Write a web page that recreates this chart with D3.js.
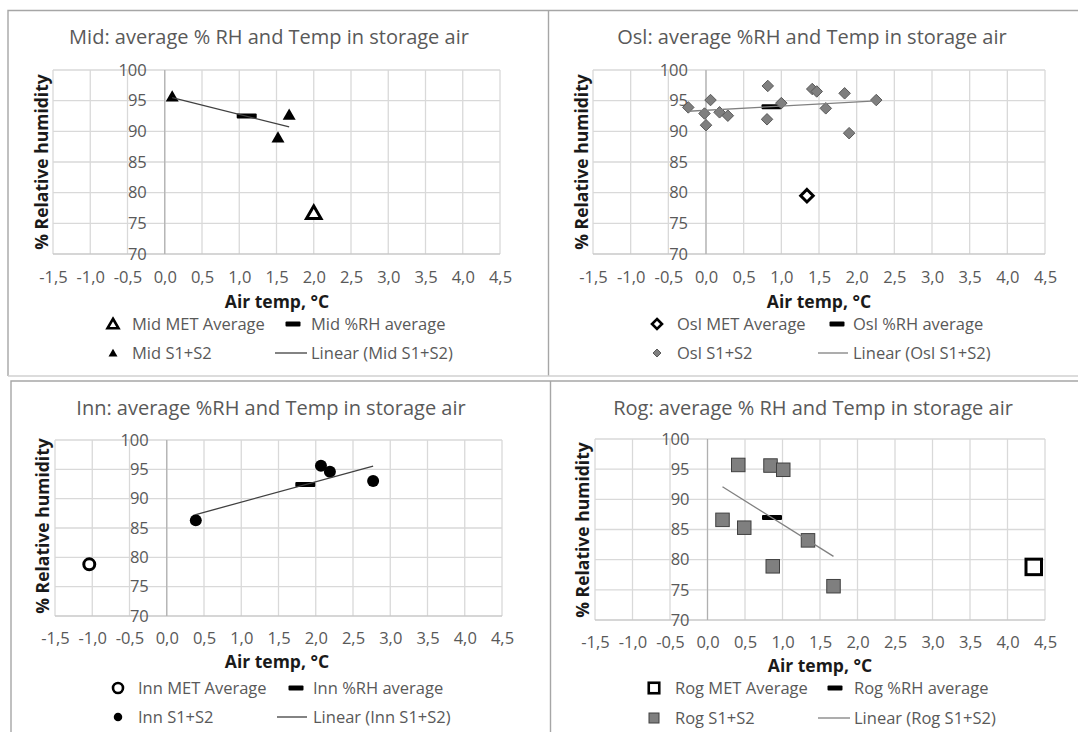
<!DOCTYPE html>
<html><head><meta charset="utf-8">
<script src="https://cdn.jsdelivr.net/npm/d3@7"></script>
<style>body{margin:0;background:#fff} svg{display:block} text{font-family:"Open Sans",sans-serif}</style>
</head><body>
<svg id="c" width="1078" height="732"></svg>
<script>
// ---- data ----
const xTicks=[-1.5,-1,-0.5,0,0.5,1,1.5,2,2.5,3,3.5,4,4.5];
const yTicks=[70,75,80,85,90,95,100];

const midS1S2Temp=[0.10,1.52,1.67];
const midS1S2RH=[95.7,89.0,92.7];
const midMETTemp=[2.0], midMETRH=[76.7];
const midAvgTemp=[1.10], midAvgRH=[92.5];

const oslS1S2Temp=[-0.235,-0.02,0.0,0.06,0.18,0.29,0.82,0.81,1.0,1.41,1.47,1.59,1.84,1.90,2.26];
const oslS1S2RH=[93.9,92.9,91.0,95.1,93.1,92.55,97.4,91.96,94.6,96.9,96.5,93.75,96.2,89.7,95.1];
const oslMETTemp=[1.34], oslMETRH=[79.5];
const oslAvgTemp=[0.87], oslAvgRH=[94.0];

const innS1S2Temp=[0.39,2.07,2.19,2.77];
const innS1S2RH=[86.3,95.6,94.6,93.0];
const innMETTemp=[-1.04], innMETRH=[78.8];
const innAvgTemp=[1.86], innAvgRH=[92.4];

const rogS1S2Temp=[0.41,0.84,1.01,0.20,0.49,1.34,0.87,1.68];
const rogS1S2RH=[95.7,95.6,94.9,86.6,85.3,83.2,78.9,75.6];
const rogMETTemp=[4.35], rogMETRH=[78.8];
const rogAvgTemp=[0.86], rogAvgRH=[87.0];

// ---- layout ----
const panels=[
 {name:"Mid", title:"Mid: average % RH and Temp in storage air", plot:[53,70,500,254],
  titleXY:[269,37], xTickY:277, xTitleXY:[277,302], yTitleXY:[42,162],
  leg:{r1:324,r2:353,m1:113,t1:132,m2:293,t2:311,l1:275,l2:307},
  sx:midS1S2Temp, sy:midS1S2RH, mx:midMETTemp, my:midMETRH, ax:midAvgTemp, ay:midAvgRH,
  shape:"triangle", ptFill:"#000", ptStroke:"#000", trend:"#404040"},
 {name:"Osl", title:"Osl: average %RH and Temp in storage air", plot:[593,70,1045,254],
  titleXY:[812,37], xTickY:277, xTitleXY:[819,302], yTitleXY:[582,162],
  leg:{r1:324,r2:353,m1:657,t1:677,m2:837,t2:853,l1:818,l2:848},
  sx:oslS1S2Temp, sy:oslS1S2RH, mx:oslMETTemp, my:oslMETRH, ax:oslAvgTemp, ay:oslAvgRH,
  shape:"diamond", ptFill:"#7f7f7f", ptStroke:"#595959", trend:"#808080"},
 {name:"Inn", title:"Inn: average %RH and Temp in storage air", plot:[55,440,502,616],
  titleXY:[271,408], xTickY:638, xTitleXY:[277,662], yTitleXY:[43,526],
  leg:{r1:688,r2:717,m1:118,t1:138,m2:296,t2:313,l1:277,l2:307},
  sx:innS1S2Temp, sy:innS1S2RH, mx:innMETTemp, my:innMETRH, ax:innAvgTemp, ay:innAvgRH,
  shape:"circle", ptFill:"#000", ptStroke:"#000", trend:"#404040"},
 {name:"Rog", title:"Rog: average % RH and Temp in storage air", plot:[595,439,1045,620],
  titleXY:[813,408], xTickY:642, xTitleXY:[820,666], yTitleXY:[583,530],
  leg:{r1:688,r2:718,m1:654,t1:675,m2:835,t2:854,l1:818,l2:850},
  sx:rogS1S2Temp, sy:rogS1S2RH, mx:rogMETTemp, my:rogMETRH, ax:rogAvgTemp, ay:rogAvgRH,
  shape:"square", ptFill:"#7f7f7f", ptStroke:"#404040", trend:"#808080"}
];

const svg=d3.select("#c");
const loc=d3.formatLocale({decimal:",",thousands:".",grouping:[3],currency:["",""],minus:"-"});
const fmt=loc.format(".1f");

// panel frames
const frame=svg.append("g").attr("fill","none").attr("stroke","#a6a6a6").attr("stroke-width",1.4);
frame.append("path").attr("d","M8,376 L8,10.5 L1078,10.5");
frame.append("path").attr("d","M548.5,10.5 L548.5,376");
frame.append("path").attr("d","M8,376 L1078,376").attr("stroke","#d0d0d0");
frame.append("path").attr("d","M11,732 L11,381 L1078,381");
frame.append("path").attr("d","M550.5,381 L550.5,732");

function marker(g,shape,cx,cy,s,fill,stroke,sw){
  if(shape==="triangle"){
    const w=s, h=s*0.87;
    g.append("path").attr("d",`M${cx},${cy-h*0.55}L${cx+w/2},${cy+h*0.45}L${cx-w/2},${cy+h*0.45}Z`)
     .attr("fill",fill).attr("stroke",stroke).attr("stroke-width",sw).attr("stroke-linejoin","miter");
  } else if(shape==="diamond"){
    const r=s/2;
    g.append("path").attr("d",`M${cx},${cy-r}L${cx+r},${cy}L${cx},${cy+r}L${cx-r},${cy}Z`)
     .attr("fill",fill).attr("stroke",stroke).attr("stroke-width",sw);
  } else if(shape==="circle"){
    g.append("circle").attr("cx",cx).attr("cy",cy).attr("r",s/2)
     .attr("fill",fill).attr("stroke",stroke).attr("stroke-width",sw);
  } else if(shape==="square"){
    g.append("rect").attr("x",cx-s/2).attr("y",cy-s/2).attr("width",s).attr("height",s)
     .attr("fill",fill).attr("stroke",stroke).attr("stroke-width",sw);
  }
}
function dash(g,cx,cy,w,h){
  g.append("rect").attr("x",cx-w/2).attr("y",cy-h/2).attr("width",w).attr("height",h)
   .attr("rx",1).attr("fill","#000");
}

const ptSize={triangle:13,diamond:11.5,circle:12,square:13.5};
const metSize={triangle:14.5,diamond:12.5,circle:11,square:15.5};
const legPt={triangle:9,diamond:8,circle:8.5,square:10};
const legMet={triangle:11,diamond:10,circle:10,square:10.5};

panels.forEach(p=>{
  const [L,T,R,B]=p.plot;
  const x=d3.scaleLinear().domain([-1.5,4.5]).range([L,R]);
  const y=d3.scaleLinear().domain([70,100]).range([B,T]);
  const g=svg.append("g");

  // grid
  g.append("g").selectAll("line").data(xTicks).join("line")
   .attr("x1",d=>x(d)).attr("x2",d=>x(d)).attr("y1",T).attr("y2",B)
   .attr("stroke","#d9d9d9").attr("stroke-width",1.3);
  g.append("g").selectAll("line").data(yTicks).join("line")
   .attr("x1",L).attr("x2",R).attr("y1",d=>y(d)).attr("y2",d=>y(d))
   .attr("stroke",d=>d===70?"#c8c8c8":"#d9d9d9").attr("stroke-width",1.3);
  // vertical axis at 0
  g.append("line").attr("x1",x(0)).attr("x2",x(0)).attr("y1",T).attr("y2",B)
   .attr("stroke","#b0b0b0").attr("stroke-width",1.2);

  // x axis labels
  const xa=g.append("g").attr("transform",`translate(0,${p.xTickY})`)
   .call(d3.axisBottom(x).tickValues(xTicks).tickFormat(fmt).tickSize(0).tickPadding(0));
  xa.select(".domain").remove();
  xa.selectAll("text").attr("font-family","Open Sans").attr("font-size",16.5).attr("fill","#595959")
    .attr("dy","0.35em").attr("y",0);
  // y axis labels, next to the x=0 axis
  const ya=g.append("g").attr("transform",`translate(${x(0)-18},0)`)
   .call(d3.axisLeft(y).tickValues(yTicks).tickFormat(d3.format("d")).tickSize(0).tickPadding(0));
  ya.select(".domain").remove();
  ya.selectAll("text").attr("font-family","Open Sans").attr("font-size",16.5).attr("fill","#595959");

  // titles
  g.append("text").attr("x",p.titleXY[0]).attr("y",p.titleXY[1]).attr("dy","0.35em")
   .attr("text-anchor","middle").attr("font-size",20).attr("fill","#595959").text(p.title);
  g.append("text").attr("x",p.xTitleXY[0]).attr("y",p.xTitleXY[1]).attr("dy","0.35em")
   .attr("text-anchor","middle").attr("font-size",17.5).attr("font-weight","bold").attr("fill","#1a1a1a")
   .text("Air temp, °C");
  g.append("text").attr("transform",`translate(${p.yTitleXY[0]},${p.yTitleXY[1]}) rotate(-90)`)
   .attr("dy","0.35em").attr("text-anchor","middle").attr("font-size",17.5).attr("font-weight","bold")
   .attr("fill","#1a1a1a").text("% Relative humidity");

  // MET average
  p.mx.forEach((v,i)=>marker(g,p.shape,x(v),y(p.my[i]),metSize[p.shape],"#fff","#000",3));
  // %RH average
  p.ax.forEach((v,i)=>dash(g,x(v),y(p.ay[i]),20,5));
  // S1+S2 points
  p.sx.forEach((v,i)=>marker(g,p.shape,x(v),y(p.sy[i]),ptSize[p.shape],p.ptFill,p.ptStroke,p.ptFill==="#000"?0:1));
  // linear trend (least squares of S1+S2)
  const mxv=d3.mean(p.sx), myv=d3.mean(p.sy);
  const slope=d3.sum(p.sx,(v,i)=>(v-mxv)*(p.sy[i]-myv))/d3.sum(p.sx,v=>(v-mxv)**2);
  const x0=d3.min(p.sx), x1=d3.max(p.sx);
  g.append("line").attr("x1",x(x0)).attr("y1",y(myv+slope*(x0-mxv)))
   .attr("x2",x(x1)).attr("y2",y(myv+slope*(x1-mxv)))
   .attr("stroke",p.trend).attr("stroke-width",1.3);

  // legend
  const lg=p.leg, lt=(xx,yy,t)=>g.append("text").attr("x",xx).attr("y",yy).attr("dy","0.35em")
     .attr("font-size",16.5).attr("fill","#595959").text(t);
  marker(g,p.shape,lg.m1,lg.r1,legMet[p.shape],"#fff","#000",2.6);
  lt(lg.t1,lg.r1,p.name+" MET Average");
  dash(g,lg.m2,lg.r1,15,5);
  lt(lg.t2,lg.r1,p.name+" %RH average");
  marker(g,p.shape,lg.m1,lg.r2,legPt[p.shape],p.ptFill,p.ptStroke,p.ptFill==="#000"?0:1);
  lt(lg.t1,lg.r2,p.name+" S1+S2");
  g.append("line").attr("x1",lg.l1).attr("x2",lg.l2).attr("y1",lg.r2).attr("y2",lg.r2)
   .attr("stroke",p.trend).attr("stroke-width",1.3);
  lt(lg.t2,lg.r2,"Linear ("+p.name+" S1+S2)");
});
</script>
</body></html>
